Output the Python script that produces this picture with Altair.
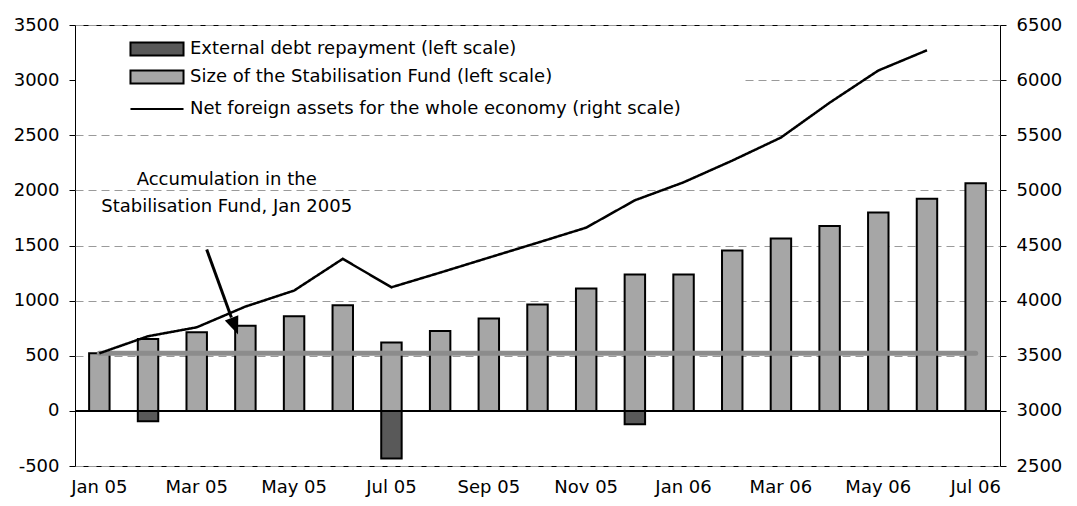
import altair as alt
import pandas as pd

# ---------------- data ----------------
months = ["Jan 05", "Feb 05", "Mar 05", "Apr 05", "May 05", "Jun 05", "Jul 05",
          "Aug 05", "Sep 05", "Oct 05", "Nov 05", "Dec 05", "Jan 06", "Feb 06",
          "Mar 06", "Apr 06", "May 06", "Jun 06", "Jul 06"]
fund_size = [522, 653, 713, 771, 858, 958, 620, 725, 837, 964, 1110, 1236,
             1236, 1455, 1563, 1678, 1799, 1925, 2065]
debt_months = ["Feb 05", "Jul 05", "Dec 05"]
debt_repayment = [-94, -433, -121]
nfa_months = months[:18]
nfa_values = [3522, 3677, 3758, 3946, 4091, 4379, 4121, 4254, 4390, 4525,
              4662, 4910, 5073, 5270, 5479, 5795, 6087, 6271]
x_labels = months[::2]
left_ticks = [-500, 0, 500, 1000, 1500, 2000, 2500, 3000, 3500]
right_ticks = [2500, 3000, 3500, 4000, 4500, 5000, 5500, 6000, 6500]

S_DEBT = "External debt repayment (left scale)"
S_FUND = "Size of the Stabilisation Fund (left scale)"
S_NFA = "Net foreign assets for the whole economy (right scale)"
bar_series = [S_DEBT, S_FUND]
bar_colors = ["#595959", "#a6a6a6"]

ann_lines = "Accumulation in the\nStabilisation Fund, Jan 2005"
ann_anchor = ["Mar 05"]
ann_y = [2097]
arrow_from = ["Mar 05"]
arrow_to = ["Apr 05"]
arrow_y_from = [1463]
arrow_y_to = [846]
arrow_head_y = [768]
level_start = ["Jan 05"]
level_end = ["Jul 06"]
level_value = [fund_size[0]]

FONT = "DejaVu Sans"

# ---------------- tables ----------------
bars_df = pd.DataFrame({
    "month": debt_months + months,
    "value": debt_repayment + fund_size,
    "series": [S_DEBT] * len(debt_months) + [S_FUND] * len(months),
})
nfa_df = pd.DataFrame({"month": nfa_months, "value": nfa_values,
                       "series": [S_NFA] * len(nfa_months)})
level_df = pd.DataFrame({"m1": level_start, "m2": level_end, "v": level_value})
arrow_df = pd.DataFrame({"m1": arrow_from, "m2": arrow_to,
                         "y1": arrow_y_from, "y2": arrow_y_to,
                         "yh": arrow_head_y})
ann_df = pd.DataFrame({"m": ann_anchor, "y": ann_y, "t": [ann_lines]})

xscale = alt.Scale(domain=months, paddingInner=0.58, paddingOuter=0.29)
yleft = alt.Scale(domain=[-500, 3500], nice=False, zero=False)
yright = alt.Scale(domain=[2500, 6500], nice=False, zero=False)
cscale = alt.Scale(domain=bar_series, range=bar_colors)

legend_common = dict(
    title=None, orient="none", legendX=73, padding=0,
    symbolSize=169, labelFontSize=18, labelFont=FONT, labelColor="black",
    labelLimit=0, labelOffset=24,
    symbolStrokeColor="black", symbolStrokeWidth=2, symbolOpacity=1,
)
bar_legend = alt.Legend(legendY=15, rowPadding=6,
                        symbolType="M-4.08,-1H4.08V1H-4.08Z", **legend_common)
line_legend = alt.Legend(legendY=75, symbolType="M-4.08,0H4.08",
                         **legend_common)

x_axis = alt.Axis(title=None, values=x_labels, labelAngle=0, ticks=False,
                  labelPadding=12, domain=False, grid=False)

grid_dash_cond = {
    "condition": {"test": "datum.value === 3000",
                  "value": [0, 670] + [8, 5] * 22},
    "value": [8, 5],
}

left_axis = alt.Axis(title=None, values=left_ticks, tickSize=6, labelPadding=10,
                     labelExpr="'' + datum.value",
                     grid=True, gridColor="#9a9a9a", gridDash=grid_dash_cond,
                     gridWidth=1, domain=False)
right_axis = alt.Axis(title=None, values=right_ticks, orient="right", tickSize=6,
                      labelPadding=10, labelExpr="'' + datum.value",
                      grid=False, domain=False)

bars = alt.Chart(bars_df).mark_bar(stroke="black", strokeWidth=2).encode(
    x=alt.X("month:N", scale=xscale, axis=x_axis),
    y=alt.Y("value:Q", scale=yleft, axis=left_axis, stack=None),
    color=alt.Color("series:N", scale=cscale, legend=bar_legend),
)

zero_rule = alt.Chart(bars_df).mark_rule(color="black", strokeWidth=1).encode(
    y=alt.datum(0, scale=yleft)
)

level = alt.Chart(level_df).mark_rule(color="#8c8c8c", strokeWidth=5,
                                      strokeCap="round").encode(
    x=alt.X("m1:N", scale=xscale),
    x2="m2:N",
    y=alt.Y("v:Q", scale=yleft),
)

arrow_shaft = alt.Chart(arrow_df).mark_rule(color="black", strokeWidth=3,
                                            xOffset=10, x2Offset=-14).encode(
    x=alt.X("m1:N", scale=xscale),
    x2="m2:N",
    y=alt.Y("y1:Q", scale=yleft),
    y2="y2:Q",
)

arrow_head = alt.Chart(arrow_df).mark_point(
    shape="M-1.6,-2L1.6,-2L0,2Z", size=81, filled=True, color="black",
    opacity=1, angle=339, xOffset=-10.6, strokeWidth=0,
).encode(
    x=alt.X("m2:N", scale=xscale),
    y=alt.Y("yh:Q", scale=yleft),
)

ann = alt.Chart(ann_df).mark_text(
    lineBreak="\n", fontSize=18, font=FONT, color="black", align="center",
    baseline="middle", lineHeight=27, xOffset=30,
).encode(
    x=alt.X("m:N", scale=xscale),
    y=alt.Y("y:Q", scale=yleft),
    text="t:N",
)

left_layer = alt.layer(bars, level, zero_rule, arrow_shaft, arrow_head, ann)

nfa_line = alt.Chart(nfa_df).mark_line(strokeWidth=2.5, color="black").encode(
    x=alt.X("month:N", scale=xscale),
    y=alt.Y("value:Q", scale=yright, axis=right_axis),
    strokeDash=alt.StrokeDash("series:N",
                              scale=alt.Scale(domain=[S_NFA], range=[[1, 0]]),
                              legend=line_legend),
)

chart = alt.layer(left_layer, nfa_line).resolve_scale(
    y="independent"
).properties(
    width=925, height=441,
    padding={"left": 5, "top": 8, "right": 2, "bottom": 2},
    background="white",
).configure_view(
    stroke="black", strokeWidth=1
).configure_axis(
    labelFont=FONT, labelFontSize=18, labelColor="black",
    tickColor="black", domainColor="black",
)

chart.save("out.html", embed_options={"renderer": "svg", "actions": False})
